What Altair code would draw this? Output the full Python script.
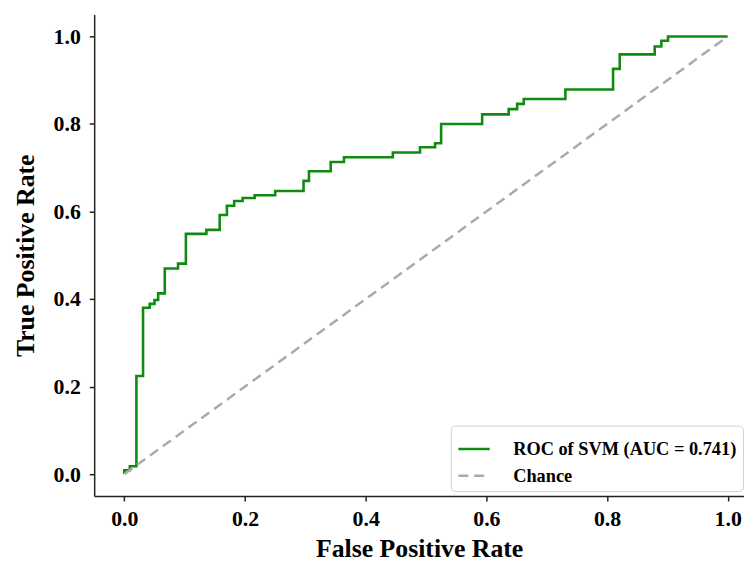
import altair as alt
import pandas as pd

roc_label = "ROC of SVM (AUC = 0.741)"
chance_label = "Chance"

# ROC staircase: false positive rate at each jump and true positive rate after it
fpr = [0.0, 0.0, 0.009, 0.02, 0.031, 0.042, 0.05, 0.056, 0.067, 0.089, 0.102,
       0.136, 0.158, 0.17, 0.182, 0.196, 0.216, 0.25, 0.297, 0.306, 0.342,
       0.364, 0.445, 0.49, 0.515, 0.525, 0.593, 0.637, 0.651, 0.662, 0.731,
       0.81, 0.821, 0.879, 0.89, 0.901, 1.0]
tpr = [0.0, 0.009, 0.018, 0.224, 0.38, 0.389, 0.398, 0.413, 0.47, 0.481, 0.549,
       0.558, 0.592, 0.613, 0.624, 0.631, 0.637, 0.647, 0.67, 0.692, 0.713,
       0.724, 0.735, 0.747, 0.756, 0.80, 0.822, 0.834, 0.846, 0.857, 0.879,
       0.926, 0.959, 0.977, 0.99, 1.0, 1.0]

chance_x = [0.0, 1.0]
chance_y = [0.0, 1.0]

tick_values = [0.0, 0.2, 0.4, 0.6, 0.8, 1.0]

roc_df = pd.DataFrame({"fpr": fpr, "tpr": tpr, "series": roc_label})
chance_df = pd.DataFrame({"fpr": chance_x, "tpr": chance_y, "series": chance_label})

FONT = "Liberation Serif"

x_enc = alt.X("fpr:Q",
              scale=alt.Scale(domain=[-0.05, 1.027], nice=False, zero=False),
              axis=alt.Axis(values=tick_values, format=".1f", title="False Positive Rate",
                            titlePadding=6, labelPadding=8))
y_enc = alt.Y("tpr:Q",
              scale=alt.Scale(domain=[-0.05, 1.05], nice=False, zero=False),
              axis=alt.Axis(values=tick_values, format=".1f", title="True Positive Rate",
                            titlePadding=15, labelPadding=9))

legend_props = dict(title=None, orient="none", legendX=360, legendY=415,
                    symbolType="M-1,0L1,0", symbolSize=1000,
                    symbolStrokeWidth=2.5, symbolFillColor="transparent",
                    labelFont=FONT, labelFontWeight="bold",
                    labelFontSize=18.5, labelOffset=22, labelLimit=400,
                    labelColor="black",
                    fillColor="white", strokeColor="#d0d0d0",
                    cornerRadius=4, padding=6, rowPadding=-6)

color_enc = alt.Color("series:N",
                      scale=alt.Scale(domain=[roc_label, chance_label],
                                      range=["#108a10", "#aaaaaa"]),
                      legend=alt.Legend(**legend_props))
dash_enc = alt.StrokeDash("series:N",
                          scale=alt.Scale(domain=[roc_label, chance_label],
                                          range=[[1, 0], [10, 6]]),
                          legend=alt.Legend(**legend_props))

roc = alt.Chart(roc_df).mark_line(interpolate="step-after", strokeWidth=2.6).encode(
    x=x_enc, y=y_enc, color=color_enc, strokeDash=dash_enc)
chance = alt.Chart(chance_df).mark_line(strokeWidth=2.5).encode(
    x=x_enc, y=y_enc, color=color_enc, strokeDash=dash_enc)

chart = alt.layer(roc, chance).properties(
    width=656, height=486,
    autosize=alt.AutoSizeParams(type="none"),
    padding={"left": 87, "top": 4, "right": 0, "bottom": 65},
    background="white",
).configure_view(stroke=None).configure_axis(
    grid=False,
    domainColor="#222222", domainWidth=1.5,
    tickColor="#222222", tickWidth=1.5, tickSize=5,
    labelFont=FONT, labelFontWeight="bold", labelFontSize=22, labelColor="black",
    titleFont=FONT, titleFontWeight="bold", titleFontSize=26, titleColor="black",
)

chart.save("out.html", embed_options={"renderer": "svg", "actions": False})
